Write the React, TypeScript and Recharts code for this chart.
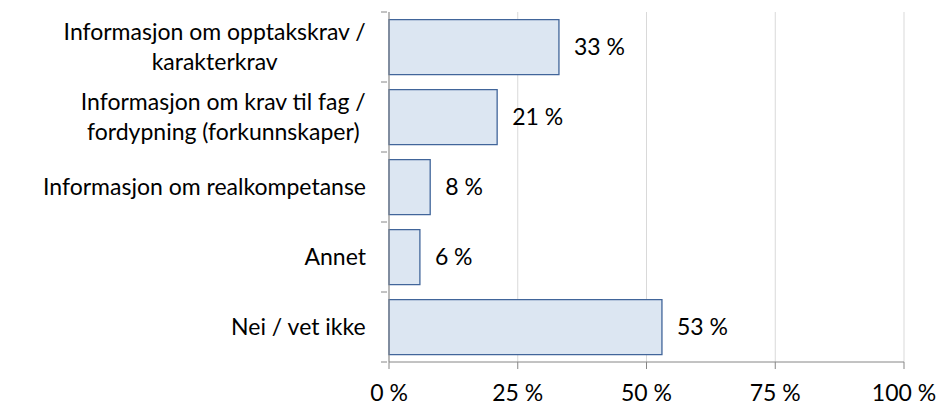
import { BarChart, Bar, XAxis, YAxis, CartesianGrid, LabelList } from "recharts";

const kategorier = [
  ["Informasjon om opptakskrav /", "karakterkrav"],
  ["Informasjon om krav til fag /", "fordypning (forkunnskaper)"],
  ["Informasjon om realkompetanse"],
  ["Annet"],
  ["Nei / vet ikke"],
];
const andeler = [33, 21, 8, 6, 53];
const xTicks = [0, 25, 50, 75, 100];

const FONT = "Lato, 'Noto Sans', sans-serif";
const FONT_SIZE = 23;
const AKSE = "#868686";
const BAND = 70;

const data = kategorier.map((linjer, i) => ({
  navn: linjer.join(" "),
  linjer,
  verdi: andeler[i],
}));

let ctx: CanvasRenderingContext2D | null = null;
function maal(tekst: string) {
  if (!ctx) ctx = document.createElement("canvas").getContext("2d");
  if (!ctx) return tekst.length * FONT_SIZE * 0.5;
  ctx.font = `${FONT_SIZE}px ${FONT}`;
  return ctx.measureText(tekst).width;
}

function KategoriTick(props: any) {
  const { x, y, payload, index } = props;
  const rad = data.find((d) => d.navn === payload.value);
  const linjer = rad ? rad.linjer : [payload.value];
  const bredde = Math.max(...linjer.map(maal));
  const aksX = x;
  const midt = aksX - 21 - bredde / 2;
  const linjeH = 30;
  const start = y - ((linjer.length - 1) * linjeH) / 2;
  return (
    <g>
      <line x1={aksX - 6} x2={aksX} y1={y - BAND / 2} y2={y - BAND / 2} stroke={AKSE} />
      {index === data.length - 1 && (
        <line x1={aksX - 6} x2={aksX} y1={y + BAND / 2} y2={y + BAND / 2} stroke={AKSE} />
      )}
      <text fontFamily={FONT} fontSize={FONT_SIZE} fill="#000" textAnchor="middle">
        {linjer.map((l: string, i: number) => (
          <tspan key={i} x={midt} y={start + i * linjeH} dy="0.35em">
            {l}
          </tspan>
        ))}
      </text>
    </g>
  );
}

export default function App() {
  return (
    <div style={{ position: "absolute", top: 0, left: 0, background: "#fff" }}>
      <BarChart
        width={939}
        height={409}
        data={data}
        layout="vertical"
        margin={{ top: 12, right: 35, bottom: 0, left: 0 }}
        barCategoryGap="11%"
      >
        <CartesianGrid horizontal={false} stroke="#d9d9d9" />
        <XAxis
          type="number"
          domain={[0, 100]}
          ticks={xTicks}
          tickFormatter={(v) => `${v} %`}
          axisLine={{ stroke: AKSE }}
          tickLine={{ stroke: AKSE }}
          tickSize={7}
          tickMargin={16}
          tick={{ fill: "#000", fontSize: FONT_SIZE, fontFamily: FONT }}
          height={47}
        />
        <YAxis
          type="category"
          dataKey="navn"
          width={389}
          axisLine={{ stroke: AKSE }}
          tickLine={false}
          tickSize={0}
          tick={<KategoriTick />}
          interval={0}
        />
        <Bar dataKey="verdi" fill="#dce6f2" stroke="#41659a" strokeWidth={1.3} isAnimationActive={false}>
          <LabelList
            dataKey="verdi"
            position="right"
            offset={15}
            formatter={(v: any) => `${v} %`}
            fill="#000"
            fontSize={FONT_SIZE}
            fontFamily={FONT}
          />
        </Bar>
      </BarChart>
    </div>
  );
}
